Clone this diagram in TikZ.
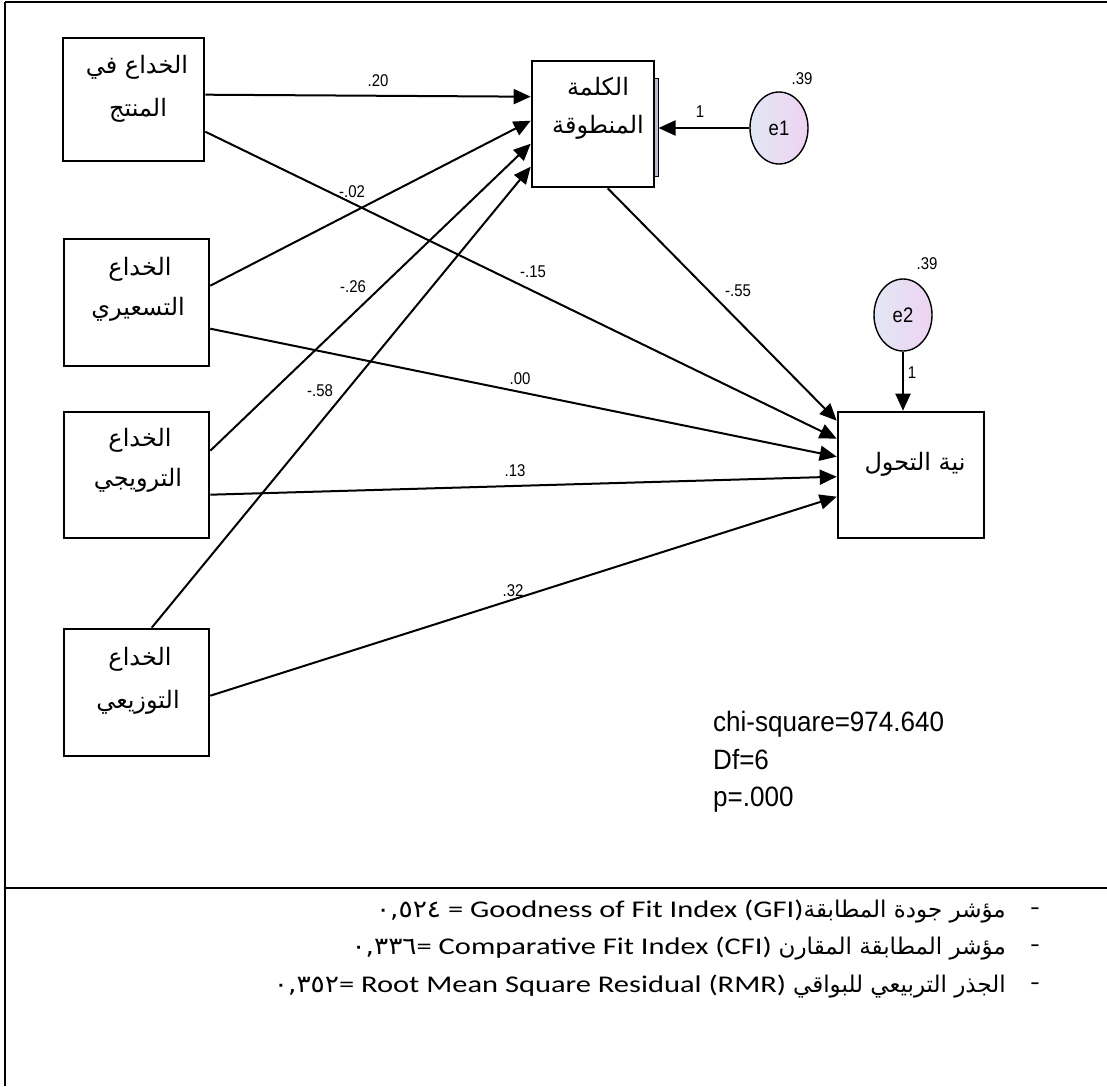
\documentclass[tikz,border=0pt]{standalone}
\usepackage{fontspec}
\setmainfont{Liberation Sans}
\newfontfamily\arabicfont[Script=Arabic]{DejaVu Sans}
\newfontfamily\digfont[FakeStretch=1.1]{DejaVu Sans}
\newfontfamily\calfont[FakeStretch=1.27]{Carlito}
\newfontfamily\narrowfont[FakeStretch=0.88]{Liberation Sans}
\newfontfamily\statfont[FakeStretch=0.93]{Liberation Sans}
\TeXXeTstate=1
\usetikzlibrary{arrows.meta,shapes.geometric,calc}

\definecolor{errleft}{RGB}{226,230,244}
\definecolor{errright}{RGB}{238,212,242}
\definecolor{barfill}{RGB}{196,184,206}

\newcommand{\ar}[1]{{\arabicfont\beginR #1\endR}}
\newcommand{\arw}[1]{{\arabicfont\fontsize{23}{26}\selectfont\beginR #1\endR}}

\begin{document}
\begin{tikzpicture}[x=1pt,y=-1pt,
  varbox/.style={draw,line width=2.6pt,inner sep=0pt},
  errnode/.style={ellipse,draw,line width=1.4pt,inner sep=0pt,
    minimum width=58pt,minimum height=72pt,left color=errleft,right color=errright,
    font=\narrowfont\fontsize{21}{23}\selectfont},
  boxtext/.style={inner sep=0pt,font=\fontsize{24}{28}\selectfont},
  coef/.style={inner sep=0pt,font=\narrowfont\fontsize{17}{19}\selectfont},
  stat/.style={inner sep=0pt,anchor=base west,font=\statfont\fontsize{28}{30}\selectfont},
  fitline/.style={inner sep=0pt,anchor=east,font=\calfont\fontsize{24}{26}\selectfont},
  path/.style={line width=2pt,-{Triangle[length=17pt,width=15pt]}}]

\useasboundingbox (0,0) rectangle (1107,1086);

% frame and separator
\draw[line width=2.8pt] (5,2) -- (1107,2);
\draw[line width=1.8pt] (5,2) -- (5,1086);
\draw[line width=2.6pt] (5,888) -- (1107,888);

% observed variables
\node[varbox,minimum width=141pt,minimum height=123pt] (b1) at (133.5,99.5) {};
\node[varbox,minimum width=145pt,minimum height=127pt] (b2) at (136.5,302.5) {};
\node[varbox,minimum width=145pt,minimum height=126pt] (b3) at (136.5,475) {};
\node[varbox,minimum width=145pt,minimum height=127pt] (b4) at (136.5,692.5) {};
\node[draw,line width=1pt,fill=barfill,minimum width=4pt,minimum height=98pt,inner sep=0pt] (bar) at (656,128) {};
\node[varbox,fill=white,minimum width=122pt,minimum height=126pt] (med) at (593,124) {};
\node[varbox,minimum width=146pt,minimum height=126pt] (out) at (911,475) {};

% box captions
\node[boxtext] (t1a) at (137,67) {\ar{الخداع في}};
\node[boxtext] (t1b) at (138,110) {\ar{المنتج}};
\node[boxtext] (t2a) at (140,269) {\ar{الخداع}};
\node[boxtext] (t2b) at (138,309) {\ar{التسعيري}};
\node[boxtext] (t3a) at (140,440) {\ar{الخداع}};
\node[boxtext] (t3b) at (138,480) {\ar{الترويجي}};
\node[boxtext] (t4a) at (140,659) {\ar{الخداع}};
\node[boxtext] (t4b) at (138,702) {\ar{التوزيعي}};
\node[boxtext] (tma) at (598,87) {\ar{الكلمة}};
\node[boxtext] (tmb) at (598,127) {\ar{المنطوقة}};
\node[boxtext] (to) at (915,464) {\ar{نية التحول}};

% error terms
\node[errnode] (e1) at (779,128) {e1};
\node[errnode] (e2) at (903,315) {e2};

% paths
\draw[path] ([yshift=-58pt]b1.north east) -- ([yshift=-37pt]med.north west);
\draw[path] ([yshift=-48pt]b2.north east) -- ([yshift=-61pt]med.north west);
\draw[path] ([yshift=-40pt]b3.north east) -- ([yshift=-84pt]med.north west);
\draw[path] ([xshift=89pt]b4.north west) -- ([yshift=-107pt]med.north west);
\draw[path] ([xshift=77pt]med.south west) -- ([yshift=-10pt]out.north west);
\draw[path] ([yshift=-95pt]b1.north east) -- ([yshift=-28pt]out.north west);
\draw[path] ([yshift=-91pt]b2.north east) -- ([yshift=-46pt]out.north west);
\draw[path] ([yshift=-84pt]b3.north east) -- ([yshift=-66pt]out.north west);
\draw[path] ([yshift=-68pt]b4.north east) -- ([yshift=-86pt]out.north west);
\draw[path] (e1.west) -- (bar.east);
\draw[path] (e2.south) -- (e2.south |- out.north);

% coefficients
\node[coef] (c1) at (378,81) {.20};
\node[coef] (c2) at (352,192) {-.02};
\node[coef] (c3) at (353,287) {-.26};
\node[coef] (c4) at (320,391) {-.58};
\node[coef] (c5) at (533,272) {-.15};
\node[coef] (c6) at (738,291) {-.55};
\node[coef] (c7) at (520,379) {.00};
\node[coef] (c8) at (515,471) {.13};
\node[coef] (c9) at (513,591) {.32};
\node[coef] (v1) at (802,79) {.39};
\node[coef] (v2) at (927,264) {.39};
\node[coef] (w1) at (700,112) {1};
\node[coef] (w2) at (912,373) {1};

% model fit
\node[stat] (s1) at (713,731) {chi-square=974.640};
\node[stat] (s2) at (713,769) {Df=6};
\node[stat] (s3) at (713,806) {p=.000};

% fit indices
\node[fitline] (f1) at (1006,912) {{\digfont ٠,٥٢٤} = Goodness of Fit Index (GFI)\arw{مؤشر جودة المطابقة}};
\node[fitline] (f2) at (1006,949) {{\digfont ٠,٣٣٦}= Comparative Fit Index (CFI) \arw{مؤشر المطابقة المقارن}};
\node[fitline] (f3) at (1006,987) {{\digfont ٠,٣٥٢}= Root Mean Square Residual (RMR) \arw{الجذر التربيعي للبواقي}};
\node[fitline] (d1) at (1040,912) {-};
\node[fitline] (d2) at (1040,949) {-};
\node[fitline] (d3) at (1040,987) {-};
\end{tikzpicture}
\end{document}
